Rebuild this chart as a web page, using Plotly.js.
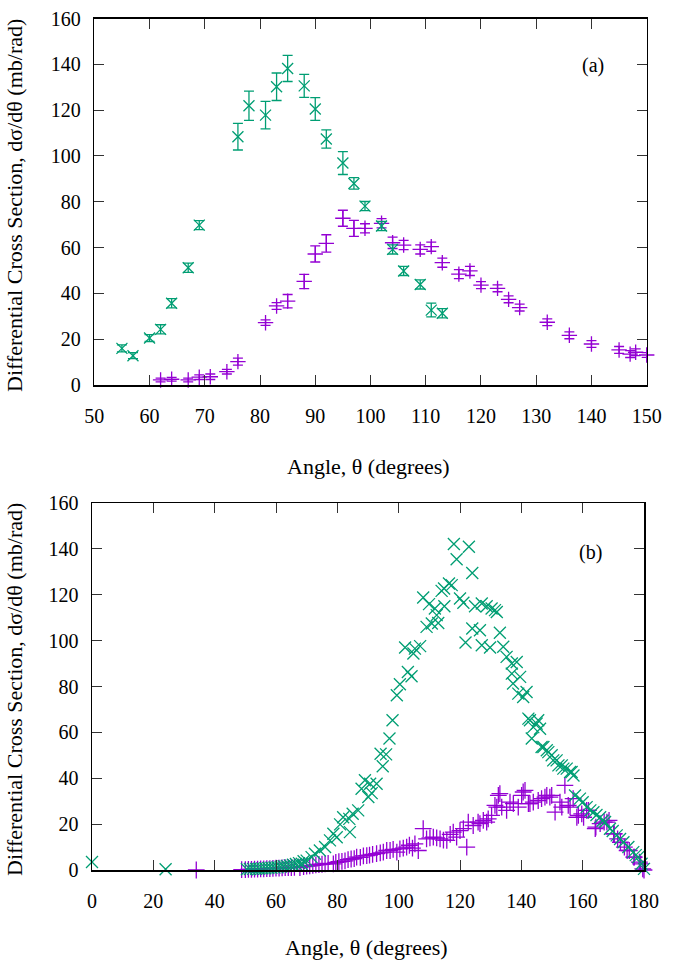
<!DOCTYPE html>
<html>
<head>
<meta charset="utf-8">
<script src="https://cdn.plot.ly/plotly-3.0.1.min.js"></script>
<style>html,body{margin:0;padding:0;background:#fff;}#chart{width:689px;height:962px;}</style>
</head>
<body>
<div id="chart"></div>
<script>
// ---- Panel (a) : data with error bars ----
const aGreenX   = [55, 57, 60, 62, 64, 67, 69, 76, 78, 81, 83, 85, 88, 90, 92, 95, 97, 99, 102, 104, 106, 109, 111, 113];
const aGreenY   = [16.0, 12.8, 20.5, 24.3, 35.7, 51.2, 69.8, 108.4, 121.9, 117.8, 130.2, 138.2, 130.6, 120.5, 107.4, 96.9, 88.0, 78.1, 69.4, 59.2, 49.8, 43.9, 32.7, 31.3];
const aGreenErr = [1.5, 1.3, 1.5, 2, 2, 2, 2, 5.8, 6.4, 6, 6, 5.7, 5, 5, 4, 5, 2.5, 2, 2, 2, 2, 2, 3, 2];

const aPurpleX   = [62, 64, 67, 69, 71, 74, 76, 81, 83, 85, 88, 90, 92, 95, 97, 99, 102, 104, 106, 109, 111, 113, 116, 118, 120, 123, 125, 127, 132, 136, 140, 145, 147, 148, 150];
const aPurpleY   = [2.2, 2.5, 2.2, 3.4, 3.6, 5.8, 10.2, 27.2, 34.5, 36.6, 45.2, 57.2, 61.8, 72.8, 68.4, 68.4, 70.6, 62.1, 61.1, 59.2, 60.4, 53.4, 48.4, 49.8, 43.6, 42.2, 37.4, 33.8, 27.4, 21.7, 17.9, 15.3, 13.5, 14.3, 13.1];
const aPurpleErr = [0.8, 0.8, 0.8, 1, 1.2, 1, 1.5, 1.2, 1.5, 2.9, 3.1, 3.5, 3.8, 3.5, 3.5, 2, 2, 2.5, 2, 2, 2, 2, 2, 2, 1.5, 1.5, 1.5, 1.5, 1.5, 1.5, 1.5, 1.5, 1.5, 1.5, 1];

// ---- Panel (b) : scatter ----
const bGreenX = [0, 24, 50.5, 51.5, 52.5, 53.5, 54.5, 55.5, 56.5, 57.5, 58.5, 59.5, 60.5, 61.5, 62.5, 63.5, 64.5, 65.5, 66.5, 67.5, 68.4, 69.0, 70.0, 71.6, 72.7, 74.3, 76.0, 77.6, 78.7, 79.8, 80.9, 81.9, 83.9, 84.1, 85.0, 86.8, 87.9, 89.0, 90.1, 90.7, 91.2, 92.8, 94.1, 94.8, 95.9, 97.0, 98.0, 99.4, 100.4, 102.1, 103.0, 104.2, 104.8, 105.3, 107.0, 108.0, 109.1, 109.9, 110.8, 111.8, 112.4, 112.9, 114.0, 114.8, 114.9, 116.4, 117.3, 118.0, 118.9, 120.0, 121.1, 121.8, 122.9, 124.0, 124.0, 124.9, 126.5, 127.1, 127.1, 128.7, 129.8, 130.3, 131.4, 132.0, 133.0, 134.1, 135.2, 136.9, 136.9, 137.3, 138.5, 139.0, 139.6, 140.6, 141.7, 142.3, 142.8, 143.4, 143.9, 145.0, 145.5, 146.1, 146.6, 147.2, 148.3, 148.8, 149.9, 150.4, 151.5, 152.1, 153.2, 153.7, 154.8, 155.9, 156.4, 157.0, 157.5, 159.1, 160.0, 161.3, 162.5, 163.5, 164.5, 165.7, 166.5, 167.3, 168.9, 169.8, 171.1, 172.2, 173.3, 174.9, 176.5, 177.3, 178.1, 179.2, 180];
const bGreenY = [3.5, 0.3, 0.3, 0.4, 0.5, 0.5, 0.6, 0.7, 0.8, 0.9, 1.0, 1.1, 1.2, 1.4, 1.6, 1.8, 2.0, 2.3, 2.6, 3.0, 2.7, 3.8, 4.1, 5.6, 7.1, 8.5, 10.0, 12.9, 15.8, 14.3, 19.9, 23.0, 22.3, 16.5, 24.5, 26.0, 35.4, 39.1, 31.8, 37.6, 33.5, 37.6, 50.7, 45.2, 50.4, 57.3, 65.3, 76.2, 81.0, 97.0, 86.3, 84.5, 94.4, 96.5, 97.6, 118.8, 106.0, 115.9, 107.5, 114.0, 111.1, 107.7, 121.7, 122.7, 115.0, 124.9, 124.2, 142.1, 135.5, 118.4, 116.5, 99.2, 140.9, 129.5, 105.3, 115.0, 104.5, 116.2, 98.0, 115.0, 97.0, 114.0, 113.3, 112.5, 103.4, 97.3, 92.9, 90.0, 85.6, 81.3, 90.7, 76.9, 84.2, 75.4, 77.6, 66.0, 65.3, 57.3, 62.3, 63.8, 65.3, 61.6, 53.6, 53.6, 52.2, 51.4, 50.0, 47.8, 47.8, 45.6, 45.6, 44.2, 44.2, 42.7, 42.7, 41.2, 32.5, 31.1, 29.5, 27.4, 26.0, 25.2, 24.0, 23.0, 21.5, 20.9, 18.0, 17.0, 15.1, 13.5, 12.1, 10.0, 7.8, 6.5, 5.6, 2.7, 0.5];

const bPurpleX = [34, 48.8, 50, 51, 52, 53, 54, 55, 56, 57, 58, 59, 60, 61, 62, 63, 64, 65, 66, 67.8, 69, 70, 71, 72, 73, 74, 75, 76, 77, 78.7, 79.5, 80.5, 81.5, 82.5, 83.5, 84.5, 85.5, 86.3, 87.5, 88.5, 89.6, 90.5, 91.5, 92.8, 94, 95, 96.1, 97.2, 98.2, 99.4, 100.4, 101.5, 102.6, 103.5, 104.5, 105.3, 106.4, 108.0, 109.1, 110.2, 111.3, 112.4, 113.5, 114.6, 115.7, 116.8, 117.8, 118.9, 120.0, 121.1, 122.2, 122.7, 124.3, 125.9, 126.5, 127.6, 128.7, 129.2, 130.3, 131.4, 132.0, 132.5, 133.0, 133.6, 135.2, 136.3, 137.4, 139.0, 140.1, 140.6, 141.2, 142.3, 142.8, 143.9, 145.5, 146.6, 147.7, 148.3, 149.3, 149.9, 151.0, 152.6, 153.2, 154.2, 155.3, 155.9, 156.9, 158.1, 158.6, 159.7, 160.3, 161.3, 161.9, 164.1, 164.3, 165.7, 167.0, 167.9, 168.6, 170.1, 170.3, 171.4, 172.3, 173.6, 174.5, 175.2, 176.7, 176.8, 178.5, 178.9, 179.6, 180];
const bPurpleY = [0.0, 0.2, 0.2, 0.3, 0.3, 0.4, 0.4, 0.5, 0.5, 0.6, 0.6, 0.7, 0.8, 0.8, 0.9, 1.0, 1.0, 1.1, 1.2, 1.0, 1.5, 1.7, 1.8, 2.0, 2.2, 2.4, 2.5, 2.7, 2.9, 2.7, 3.3, 3.6, 3.8, 4.0, 4.5, 4.8, 5.0, 5.6, 5.5, 6.2, 6.3, 6.5, 6.8, 7.1, 7.5, 7.8, 8.5, 8.5, 9.0, 7.8, 9.2, 9.5, 10.0, 10.8, 9.5, 11.4, 8.5, 18.0, 13.6, 14.0, 14.3, 14.0, 13.6, 13.0, 12.9, 15.5, 16.5, 14.3, 17.2, 18.0, 10.0, 20.9, 19.4, 20.9, 20.2, 21.6, 20.9, 22.3, 23.8, 28.2, 27.4, 32.5, 33.3, 27.4, 26.0, 29.6, 28.9, 27.4, 32.5, 34.0, 34.7, 28.9, 28.9, 29.6, 30.3, 31.1, 31.8, 32.5, 31.8, 32.5, 25.2, 29.6, 27.4, 36.9, 28.2, 27.4, 31.1, 23.0, 23.8, 24.5, 23.0, 26.0, 26.0, 18.0, 18.7, 20.2, 20.9, 20.9, 21.6, 15.8, 15.8, 13.6, 12.1, 10.0, 8.5, 8.5, 5.6, 5.6, 3.4, 2.7, 0.5, 0.0];

const xTicksA = [50, 60, 70, 80, 90, 100, 110, 120, 130, 140, 150];
const xTicksB = [0, 20, 40, 60, 80, 100, 120, 140, 160, 180];
const yTicks  = [0, 20, 40, 60, 80, 100, 120, 140, 160];

const PURPLE = '#9400D3';
const GREEN  = '#009E73';
const FONT = '"Liberation Serif", "Times New Roman", serif';
const W = 689, H = 962;
const TITLE_SIZE = 22;

function errBar(arr, color) {
  return {type: 'data', array: arr, visible: true, color: color, thickness: 1.3, width: 5};
}

const traces = [
  {x: aPurpleX, y: aPurpleY, xaxis: 'x', yaxis: 'y', mode: 'markers', type: 'scatter',
   marker: {symbol: 'cross-thin', size: 11, line: {color: PURPLE, width: 1.3}, color: PURPLE},
   error_y: errBar(aPurpleErr, PURPLE), cliponaxis: false},
  {x: aGreenX, y: aGreenY, xaxis: 'x', yaxis: 'y', mode: 'markers', type: 'scatter',
   marker: {symbol: 'x-thin', size: 11, line: {color: GREEN, width: 1.3}, color: GREEN},
   error_y: errBar(aGreenErr, GREEN), cliponaxis: false},
  {x: bPurpleX, y: bPurpleY, xaxis: 'x2', yaxis: 'y2', mode: 'markers', type: 'scatter',
   marker: {symbol: 'cross-thin', size: 12, line: {color: PURPLE, width: 1.3}, color: PURPLE}, cliponaxis: false},
  {x: bGreenX, y: bGreenY, xaxis: 'x2', yaxis: 'y2', mode: 'markers', type: 'scatter',
   marker: {symbol: 'x-thin', size: 12, line: {color: GREEN, width: 1.3}, color: GREEN}, cliponaxis: false}
];

function axisBase(extra) {
  return Object.assign({
    showline: true, mirror: 'ticks', linecolor: '#000', linewidth: 1.5,
    ticks: 'inside', ticklen: 10, tickwidth: 1, tickcolor: '#333',
    showgrid: false, zeroline: false, fixedrange: true,
    tickfont: {family: FONT, size: 20, color: '#000'}
  }, extra);
}

const layout = {
  width: W, height: H, margin: {l: 0, r: 0, t: 0, b: 0},
  paper_bgcolor: '#fff', plot_bgcolor: '#fff', showlegend: false,
  font: {family: FONT, size: 20, color: '#000'},
  xaxis: axisBase({domain: [94.3 / W, 646.7 / W], range: [50, 150], tickvals: xTicksA, anchor: 'y', ticklabelstandoff: 12}),
  yaxis: axisBase({domain: [1 - 385 / H, 1 - 18.5 / H], range: [0, 160], tickvals: yTicks, anchor: 'x', ticklabelstandoff: 8}),
  xaxis2: axisBase({domain: [92 / W, 644 / W], range: [0, 180], tickvals: xTicksB, anchor: 'y2', ticklabelstandoff: 12}),
  yaxis2: axisBase({domain: [1 - 870 / H, 1 - 503 / H], range: [0, 160], tickvals: yTicks, anchor: 'x2', ticklabelstandoff: 8}),
  annotations: [
    {text: 'Angle, θ (degrees)', xref: 'paper', yref: 'paper', x: 368 / W, y: 1 - 466 / H, showarrow: false, xanchor: 'center', yanchor: 'middle', font: {family: FONT, size: TITLE_SIZE}},
    {text: 'Angle, θ (degrees)', xref: 'paper', yref: 'paper', x: 366 / W, y: 1 - 947 / H, showarrow: false, xanchor: 'center', yanchor: 'middle', font: {family: FONT, size: TITLE_SIZE}},
    {text: 'Differential Cross Section, dσ/dθ (mb/rad)', xref: 'paper', yref: 'paper', x: 14 / W, y: 1 - 206 / H, showarrow: false, textangle: -90, xanchor: 'center', yanchor: 'middle', font: {family: FONT, size: TITLE_SIZE}},
    {text: 'Differential Cross Section, dσ/dθ (mb/rad)', xref: 'paper', yref: 'paper', x: 14 / W, y: 1 - 690 / H, showarrow: false, textangle: -90, xanchor: 'center', yanchor: 'middle', font: {family: FONT, size: TITLE_SIZE}},
    {text: '(a)', xref: 'paper', yref: 'paper', x: 593 / W, y: 1 - 66 / H, showarrow: false, xanchor: 'center', yanchor: 'middle', font: {family: FONT, size: 20}},
    {text: '(b)', xref: 'paper', yref: 'paper', x: 590 / W, y: 1 - 552 / H, showarrow: false, xanchor: 'center', yanchor: 'middle', font: {family: FONT, size: 20}}
  ]
};

Plotly.newPlot('chart', traces, layout, {displayModeBar: false, staticPlot: true});
</script>
</body>
</html>
